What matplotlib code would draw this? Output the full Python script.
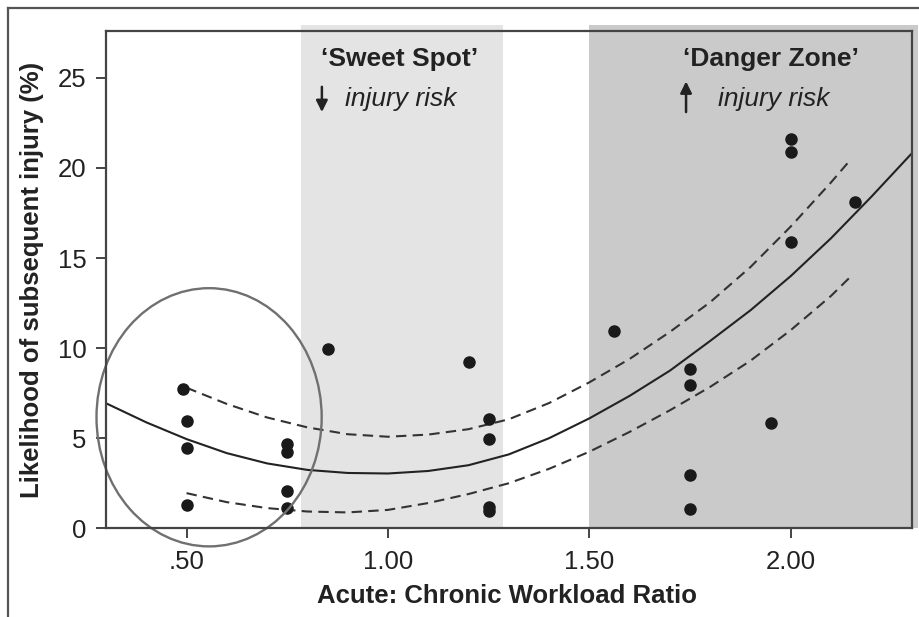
import matplotlib
matplotlib.use('Agg')
import matplotlib.pyplot as plt
from matplotlib.patches import Ellipse
from matplotlib.lines import Line2D

# observed points (ratio, % injury)
ratio = [0.49, 0.50, 0.50, 0.50, 0.75, 0.75, 0.75, 0.75, 0.85, 1.20,
         1.25, 1.25, 1.25, 1.25, 1.56, 1.75, 1.75, 1.75, 1.75, 1.95,
         2.00, 2.00, 2.00, 2.16]
injury = [7.75, 5.95, 4.45, 1.30, 4.70, 4.25, 2.05, 1.10, 9.95, 9.25,
          6.05, 4.95, 1.20, 0.95, 10.95, 8.85, 7.95, 2.95, 1.05, 5.85,
          21.6, 20.9, 15.9, 18.1]

# fitted curve
fit_x = [0.30, 0.40, 0.50, 0.60, 0.70, 0.80, 0.90, 1.00, 1.10, 1.20, 1.30,
         1.40, 1.50, 1.60, 1.70, 1.80, 1.90, 2.00, 2.10, 2.20, 2.30]
fit_y = [6.94, 5.88, 4.95, 4.17, 3.60, 3.24, 3.07, 3.04, 3.18, 3.50, 4.10,
         5.00, 6.10, 7.35, 8.75, 10.40, 12.10, 14.00, 16.10, 18.40, 20.80]

# confidence band (dashed)
ci_x = [0.50, 0.60, 0.70, 0.80, 0.90, 1.00, 1.10, 1.20, 1.30, 1.40, 1.50,
        1.60, 1.70, 1.80, 1.90, 2.00, 2.10, 2.15]
ci_hi = [7.80, 6.90, 6.15, 5.60, 5.22, 5.08, 5.20, 5.50, 6.05, 6.95, 8.10,
         9.40, 10.90, 12.55, 14.50, 16.75, 19.20, 20.50]
ci_lo = [1.95, 1.45, 1.12, 0.93, 0.88, 1.02, 1.40, 1.90, 2.50, 3.30, 4.25,
         5.35, 6.55, 7.85, 9.30, 11.00, 12.90, 14.00]

xticks = [0.5, 1.0, 1.5, 2.0]
xticklabels = ['.50', '1.00', '1.50', '2.00']
yticks = [0, 5, 10, 15, 20, 25]

plt.rcParams['font.family'] = ['Liberation Sans', 'DejaVu Sans']

fig = plt.figure(figsize=(9.19, 6.17), dpi=100)
ax = fig.add_axes([0.1153, 0.1438, 0.992 - 0.1153, 0.9498 - 0.1438])

# zones
ax.axvspan(0.785, 1.285, ymin=0, ymax=1.012, color='#e4e4e4', lw=0, clip_on=False, zorder=0)
ax.axvspan(1.5, 2.315, ymin=0, ymax=1.012, color='#cacaca', lw=0, clip_on=False, zorder=0)

ax.plot(fit_x, fit_y, color='#222222', lw=1.5, zorder=3)
ax.plot(ci_x, ci_hi, color='#333333', lw=1.5, dashes=(5, 3), zorder=3)
ax.plot(ci_x, ci_lo, color='#333333', lw=1.5, dashes=(5, 3), zorder=3)
ax.plot(ratio, injury, 'o', color='#1a1a1a', markersize=8, zorder=4)

ax.add_patch(Ellipse((0.556, 6.16), 0.559, 14.33, fill=False, edgecolor='#707070',
                     lw=1.7, clip_on=False, zorder=5))

# annotations
ax.text(0.835, 25.65, '\u2018Sweet Spot\u2019', fontsize=19, fontweight='bold', color='#222222')
ax.text(0.893, 23.42, 'injury risk', fontsize=19, style='italic', color='#222222')
ax.annotate('', xy=(0.836, 23.1), xytext=(0.836, 24.5),
            arrowprops=dict(arrowstyle='-|>', color='#222222', lw=1.8,
                            mutation_scale=17, shrinkA=0, shrinkB=0))
ax.text(1.95, 25.65, '\u2018Danger Zone\u2019', fontsize=19, fontweight='bold',
        color='#222222', ha='center')
ax.text(1.82, 23.42, 'injury risk', fontsize=19, style='italic', color='#222222')
ax.annotate('', xy=(1.740, 24.8), xytext=(1.740, 23.1),
            arrowprops=dict(arrowstyle='-|>', color='#222222', lw=1.8,
                            mutation_scale=17, shrinkA=0, shrinkB=0))

ax.set_xlim(0.3, 2.3)
ax.set_ylim(0, 27.6)
ax.set_xticks(xticks)
ax.set_xticklabels(xticklabels)
ax.set_yticks(yticks)
ax.tick_params(direction='out', length=7, width=1.4, labelsize=18.5, pad=7,
               color='#444444', labelcolor='#222222')
ax.tick_params(axis='x', pad=9)
for s in ax.spines.values():
    s.set_linewidth(1.6)
    s.set_color('#444444')
    s.set_zorder(6)

ax.set_xlabel('Acute: Chronic Workload Ratio', fontsize=18.5, fontweight='bold', color='#222222')
ax.set_ylabel('Likelihood of subsequent injury (%)', fontsize=18.5, fontweight='bold', color='#222222')
ax.xaxis.set_label_coords(0.498, -0.136)
ax.xaxis.label.set_va('center')
ax.yaxis.set_label_coords(-0.092, 0.5)
ax.yaxis.label.set_va('center')

# outer frame (top and left edges of the original panel)
fig.add_artist(Line2D([8 / 919, 1.0], [1 - 8 / 617, 1 - 8 / 617], color='#555555', lw=1.6))
fig.add_artist(Line2D([8 / 919, 8 / 919], [0, 1 - 8 / 617], color='#555555', lw=1.6))

fig.savefig('out.png', dpi=100)
